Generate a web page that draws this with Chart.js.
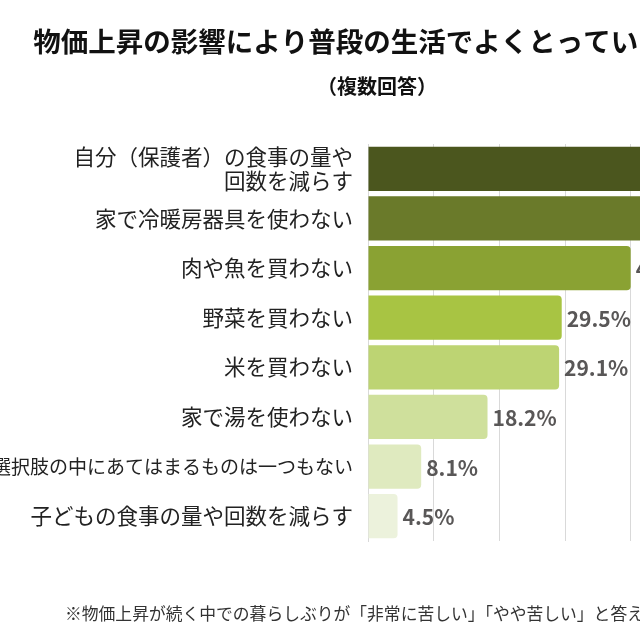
<!DOCTYPE html>
<html lang="ja">
<head>
<meta charset="utf-8">
<script src="https://cdn.jsdelivr.net/npm/chart.js@4.4.1/dist/chart.umd.min.js"></script>
<style>
  html, body { margin: 0; padding: 0; background: #fff; }
  #wrap { position: relative; width: 640px; height: 640px; overflow: hidden; }
  #box { position: absolute; left: -80px; top: 0; width: 914px; height: 640px; }
  #note {
    position: absolute; left: 65px; top: 601px; white-space: nowrap;
    font-family: "Noto Sans CJK JP", sans-serif; font-size: 16.8px; color: #333;
  }
</style>
</head>
<body>
<div id="wrap">
  <div id="box"><canvas id="chart" width="914" height="640"></canvas></div>
  <div id="note">※物価上昇が続く中での暮らしぶりが「非常に苦しい」「やや苦しい」と答えた人</div>
</div>
<script>
// chart data
const categories = [
    ['自分（保護者）の食事の量や', '回数を減らす'],
    '家で冷暖房器具を使わない',
    '肉や魚を買わない',
    '野菜を買わない',
    '米を買わない',
    '家で湯を使わない',
    '選択肢の中にあてはまるものは一つもない',
    '子どもの食事の量や回数を減らす'
];
const values = [50.6, 45.5, 40.0, 29.5, 29.1, 18.2, 8.1, 4.5];
const barColors = ['#4b561e', '#6a7a2a', '#8aa233', '#a8c443', '#bdd473', '#cfe09c', '#dfeabf', '#ecf2dc'];

const titleText = '物価上昇の影響により普段の生活でよくとっている行動';
const subtitleText = '（複数回答）';

document.addEventListener('DOMContentLoaded', () => {
    const font = '"Noto Sans CJK JP", "Noto Sans", sans-serif';
    Chart.defaults.font.family = font;

    // percentage labels at the end of each bar
    const valueLabels = {
        id: 'valueLabels',
        afterDatasetsDraw(chart) {
            const ctx = chart.ctx;
            const meta = chart.getDatasetMeta(0);
            ctx.save();
            ctx.font = 'bold 21px ' + font;
            ctx.fillStyle = '#595757';
            ctx.textAlign = 'left';
            ctx.textBaseline = 'middle';
            meta.data.forEach((bar, i) => {
                ctx.fillText(values[i].toFixed(1) + '%', bar.x + 5, bar.y + 1);
            });
            ctx.restore();
        }
    };

    const ctx = document.getElementById('chart').getContext('2d');
    new Chart(ctx, {
        type: 'bar',
        data: {
            labels: categories,
            datasets: [{
                data: values,
                backgroundColor: barColors,
                borderRadius: 4,
                borderSkipped: 'start',
                barPercentage: 0.89,
                categoryPercentage: 1.0
            }]
        },
        options: {
            indexAxis: 'y',
            responsive: false,
            animation: false,
            layout: {
                padding: { left: 72, right: 72, top: 0, bottom: 99 }
            },
            scales: {
                x: {
                    min: 0,
                    max: 60,
                    ticks: { display: false, stepSize: 10 },
                    grid: { color: '#d9d9d9', lineWidth: 1, drawTicks: false },
                    border: { display: false },
                    afterFit: (scale) => { scale.height = 0; }
                },
                y: {
                    ticks: {
                        color: '#222',
                        padding: 15,
                        // the long "none" label is set tighter in the original
                        font: (c) => ({ size: c.index === 6 ? 19 : 21.5, lineHeight: 1.08 })
                    },
                    grid: { display: false, drawTicks: false },
                    border: { display: true, color: '#d9d9d9', width: 1 },
                    afterFit: (scale) => { scale.width = 376; }
                }
            },
            plugins: {
                legend: { display: false },
                tooltip: { enabled: false },
                title: {
                    display: true,
                    text: titleText,
                    color: '#111',
                    font: { size: 27.5, weight: 'bold', lineHeight: 1.2 },
                    padding: { top: 25, bottom: 16 }
                },
                subtitle: {
                    display: true,
                    text: subtitleText,
                    color: '#111',
                    font: { size: 20, weight: 'bold', lineHeight: 1.2 },
                    padding: { top: 0, bottom: 46 }
                }
            }
        },
        plugins: [valueLabels]
    });
});
</script>
</body>
</html>
